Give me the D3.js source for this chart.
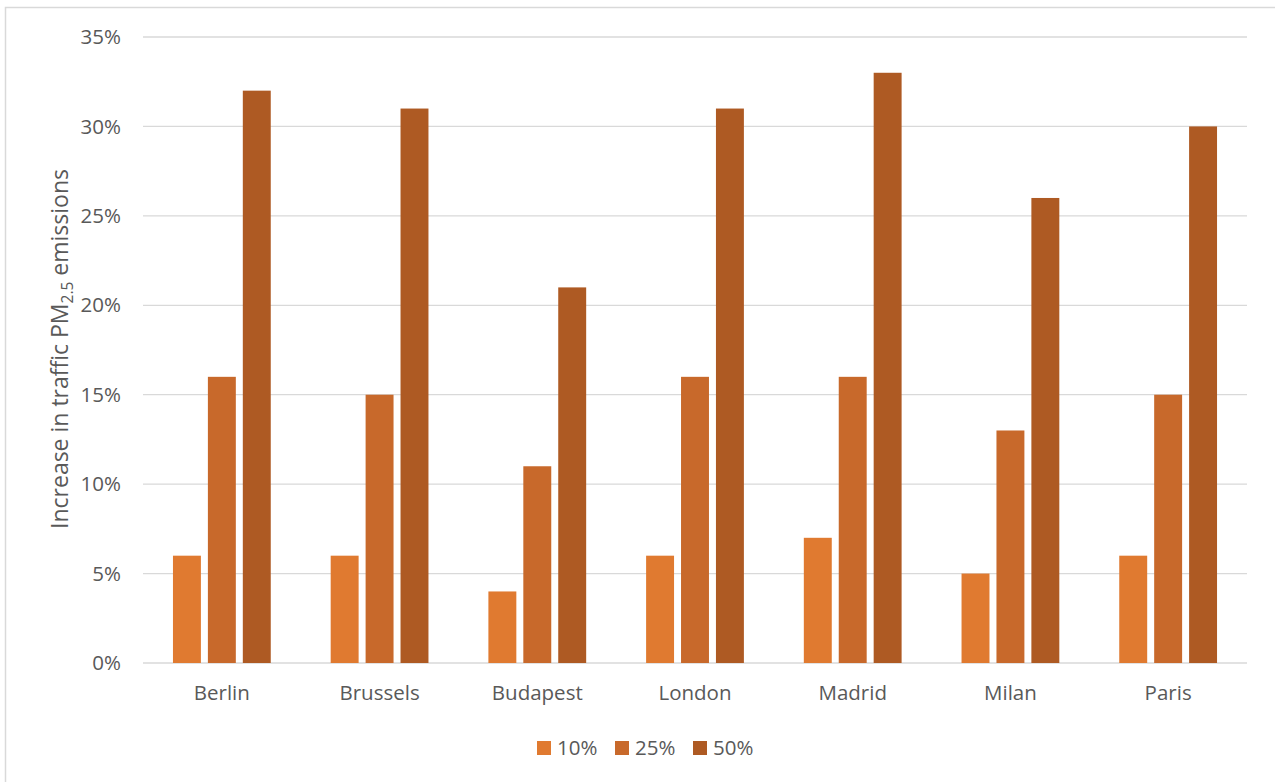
<!DOCTYPE html>
<html>
<head>
<meta charset="utf-8">
<script src="https://cdn.jsdelivr.net/npm/d3@7"></script>
<style>
  body { margin: 0; background: #fff; }
  svg { display: block; font-family: "Open Sans", sans-serif; }
</style>
</head>
<body>
<svg id="chart" width="1275" height="782"></svg>
<script>
const cities = ["Berlin", "Brussels", "Budapest", "London", "Madrid", "Milan", "Paris"];
const seriesNames = ["10%", "25%", "50%"];
const values10 = [6, 6, 4, 6, 7, 5, 6];
const values25 = [16, 15, 11, 16, 16, 13, 15];
const values50 = [32, 31, 21, 31, 33, 26, 30];
const yTicks = [0, 5, 10, 15, 20, 25, 30, 35];
const colors = ["#e07a30", "#c8692b", "#ae5a23"];

const seriesValues = [values10, values25, values50];

const svg = d3.select("#chart");

// chart frame (only top and left edges show)
svg.append("rect")
    .attr("x", 5.5).attr("y", 7.5)
    .attr("width", 1300).attr("height", 800)
    .attr("fill", "none")
    .attr("stroke", "#d9d9d9")
    .attr("stroke-width", 1.5);

const plotLeft = 143, plotRight = 1247, plotTop = 37, plotBottom = 663;

const y = d3.scaleLinear().domain([0, 35]).range([plotBottom, plotTop]);
const x0 = d3.scaleBand().domain(cities).range([plotLeft, plotRight])
    .paddingInner(0.38).paddingOuter(0.19);
const x1 = d3.scaleBand().domain(seriesNames).range([0, x0.bandwidth()])
    .paddingInner(0.2);

// gridlines
svg.append("g")
    .selectAll("line")
    .data(yTicks)
    .enter()
    .append("line")
    .attr("x1", plotLeft).attr("x2", plotRight)
    .attr("y1", d => y(d)).attr("y2", d => y(d))
    .attr("stroke", "#d9d9d9")
    .attr("stroke-width", 1.3);

// y tick labels
svg.append("g")
    .selectAll("text")
    .data(yTicks)
    .enter()
    .append("text")
    .attr("x", 121)
    .attr("y", d => y(d))
    .attr("dy", "0.35em")
    .attr("text-anchor", "end")
    .attr("font-size", 20.5)
    .attr("fill", "#595959")
    .text(d => d + "%");

// bars
const group = svg.append("g")
    .selectAll("g")
    .data(cities)
    .enter()
    .append("g")
    .attr("transform", d => `translate(${x0(d)},0)`);

group.selectAll("rect")
    .data((d, i) => seriesNames.map((s, j) => ({ s, j, v: seriesValues[j][i] })))
    .enter()
    .append("rect")
    .attr("x", d => x1(d.s))
    .attr("y", d => y(d.v))
    .attr("width", x1.bandwidth())
    .attr("height", d => y(0) - y(d.v))
    .attr("fill", d => colors[d.j]);

// x labels
svg.append("g")
    .selectAll("text")
    .data(cities)
    .enter()
    .append("text")
    .attr("x", d => x0(d) + x0.bandwidth() / 2)
    .attr("y", 693)
    .attr("dy", "0.35em")
    .attr("text-anchor", "middle")
    .attr("font-size", 20.5)
    .attr("fill", "#595959")
    .text(d => d);

// y axis title
const title = svg.append("text")
    .attr("transform", `translate(68,${(plotTop + plotBottom) / 2 - 1}) rotate(-90)`)
    .attr("text-anchor", "middle")
    .attr("font-size", 23)
    .attr("fill", "#595959");
title.append("tspan").text("Increase in traffic PM");
title.append("tspan").attr("font-size", 15.5).attr("dy", 5).text("2.5");
title.append("tspan").attr("dy", -5).text(" emissions");

// legend
const legend = svg.append("g")
    .selectAll("g")
    .data(seriesNames)
    .enter()
    .append("g")
    .attr("transform", (d, i) => `translate(${537 + i * 78},741)`);

legend.append("rect")
    .attr("width", 14).attr("height", 14)
    .attr("fill", (d, i) => colors[i]);

legend.append("text")
    .attr("x", 20).attr("y", 7)
    .attr("dy", "0.35em")
    .attr("font-size", 20.5)
    .attr("fill", "#595959")
    .text(d => d);
</script>
</body>
</html>
